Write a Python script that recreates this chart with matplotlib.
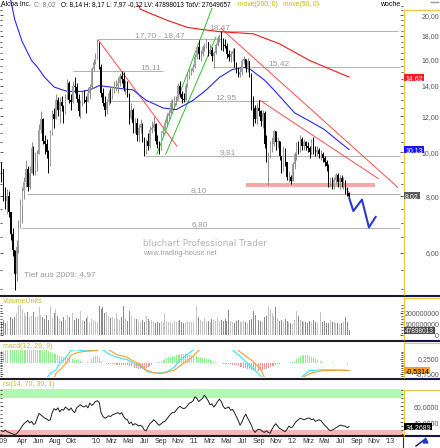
import numpy as np
import pandas as pd
import matplotlib
matplotlib.use('Agg')
import matplotlib.pyplot as plt
import matplotlib.dates as mdates
from matplotlib.lines import Line2D
from matplotlib.patches import Rectangle
from matplotlib.ticker import FixedLocator, NullFormatter

plt.rcParams['font.family'] = ['Liberation Sans', 'DejaVu Sans']

# weekly candles Alcoa Inc., week of 12 Jan 2009 .. week of 30 Jul 2012
week_start = '2009-01-12'
first_open = 9.4
closes = [9.2, 8.3, 7.8, 8.0, 7.4, 6.6, 6.1, 5.4, 6.2, 6.8, 7.6, 8.2, 8.6, 9.2, 8.4, 9.0, 10.2, 9.1, 9.5, 9.9,
          11.2, 11.8, 10.6, 10.4, 10.0, 9.4, 11.0, 12.1, 11.8, 13.0, 12.4, 12.9, 12.6, 12.1, 13.2, 14.2, 13.0, 12.9,
          14.0, 13.9, 13.1, 12.3, 12.8, 13.4, 13.0, 12.9, 13.5, 13.9, 15.2, 15.8, 16.1,
          17.3, 15.4, 13.5, 12.8, 12.4, 12.9, 13.5, 13.3, 13.8, 14.0, 14.0, 14.2, 14.7, 14.5, 13.8, 14.0, 13.4, 11.9,
          12.4, 11.6, 11.6, 10.9, 11.3, 11.5, 10.6, 10.0, 10.6, 10.3, 11.2, 11.3, 11.5, 10.6, 10.5, 10.2, 11.0, 11.1,
          11.6, 12.0, 12.2, 12.8, 12.8, 13.0, 13.0, 14.0, 13.4, 13.1, 13.0, 14.0, 14.7, 14.9, 15.1, 15.4,
          16.2, 17.0, 16.4, 16.4, 17.0, 17.1, 17.5, 16.6, 16.8, 16.3, 16.5, 17.2, 17.8, 17.9, 17.4, 17.2, 17.1, 16.4,
          16.2, 16.4, 16.7, 15.6, 15.1, 14.8, 15.0, 15.9, 16.0, 15.3, 15.9, 14.8, 12.8, 12.5, 11.8, 12.5, 12.3, 11.7,
          12.2, 10.4, 9.6, 9.8, 10.4, 10.4, 11.1, 10.5, 10.6, 9.8, 9.1, 10.0, 9.5, 8.8, 8.8, 8.65,
          9.4, 9.9, 10.3, 10.2, 10.7, 10.3, 10.5, 10.3, 10.2, 10.0, 10.5, 10.1, 10.0, 10.1, 9.9, 9.9, 9.7, 9.5, 9.3,
          8.6, 8.7, 8.4, 8.7, 8.9, 8.6, 8.75, 8.6, 8.6, 8.3, 8.14, 8.02]
highs = [9.5, 9.2, 8.4, 8.3, 8.2, 7.3, 6.8, 6.1, 6.4, 7.1, 7.9, 8.4, 8.8, 9.6, 9.3, 9.3, 10.5, 10.3, 10.0, 10.1,
         11.5, 12.3, 11.9, 10.9, 10.7, 10.1, 11.2, 12.4, 12.5, 13.4, 13.2, 13.2, 13.3, 12.7, 13.4, 14.5, 14.3, 13.4,
         14.3, 14.6, 14.2, 13.4, 13.0, 13.6, 13.7, 13.3, 13.9, 14.1, 15.4, 16.0, 16.5,
         17.7, 17.5, 15.6, 13.8, 13.3, 13.1, 13.7, 13.8, 14.0, 14.3, 14.4, 14.6, 14.9, 15.11, 15.0, 14.4, 14.3, 13.5,
         12.8, 12.5, 11.9, 11.9, 11.5, 11.8, 11.6, 10.8, 10.7, 11.0, 11.4, 11.7, 12.0, 11.6, 10.9, 10.6, 11.1, 11.4,
         11.8, 12.2, 12.4, 13.0, 13.1, 13.3, 13.3, 14.2, 14.3, 13.6, 13.5, 14.2, 14.9, 15.2, 15.3, 15.6,
         16.4, 17.3, 17.6, 16.8, 17.2, 17.4, 17.7, 17.4, 17.3, 17.0, 16.7, 17.4, 18.0, 18.2, 18.47, 17.8, 17.7, 17.4,
         16.8, 16.7, 16.9, 16.9, 15.8, 15.3, 15.4, 16.0, 16.3, 16.0, 16.1, 15.9, 14.9, 13.3, 12.7, 12.8, 13.0, 12.4,
         12.4, 12.3, 10.9, 10.0, 10.6, 10.8, 11.2, 11.1, 10.8, 10.6, 9.8, 10.3, 10.2, 9.5, 9.1, 8.9,
         9.5, 10.0, 10.5, 10.6, 10.9, 10.8, 10.7, 10.6, 10.5, 10.3, 10.7, 10.8, 10.3, 10.3, 10.2, 10.1, 10.0, 9.8, 9.6,
         9.4, 8.8, 8.8, 8.8, 9.0, 9.0, 8.9, 8.9, 8.8, 8.7, 8.4, 8.17]
lows = [8.6, 7.8, 7.5, 7.3, 7.2, 6.4, 5.9, 4.97, 5.2, 6.0, 6.8, 7.0, 7.9, 8.4, 8.2, 8.3, 9.0, 8.9, 8.9, 9.1,
        10.0, 11.0, 10.4, 9.9, 9.7, 9.0, 9.3, 10.9, 11.3, 11.9, 12.0, 11.6, 12.3, 11.6, 12.1, 13.1, 12.8, 12.4,
        12.8, 13.5, 12.9, 12.0, 11.9, 12.6, 12.8, 12.2, 12.9, 13.1, 13.8, 15.1, 15.6,
        16.0, 15.2, 13.2, 12.6, 12.0, 12.1, 12.7, 12.8, 13.1, 13.5, 13.6, 13.5, 14.0, 14.2, 13.6, 13.4, 13.2, 11.5,
        11.8, 11.0, 11.0, 10.6, 10.5, 11.0, 10.5, 9.81, 9.9, 10.1, 10.2, 11.0, 11.1, 10.4, 10.2, 9.9, 10.1, 10.8,
        11.0, 11.4, 11.8, 12.1, 12.4, 12.5, 12.7, 13.0, 13.2, 12.8, 12.9, 13.0, 13.9, 14.5, 14.8, 15.0,
        15.3, 16.0, 16.0, 15.9, 16.3, 16.7, 16.9, 16.3, 16.4, 15.9, 15.3, 16.4, 17.1, 17.5, 16.8, 16.7, 16.9, 16.1,
        15.9, 15.8, 15.9, 15.4, 14.9, 14.6, 14.6, 14.8, 15.6, 15.0, 15.0, 14.6, 12.4, 11.4, 11.6, 11.5, 12.0, 11.4,
        11.3, 10.2, 9.5, 8.45, 9.7, 10.0, 10.3, 10.1, 10.2, 9.6, 9.0, 9.2, 9.3, 8.7, 8.6, 8.5,
        8.7, 9.2, 9.6, 9.9, 10.0, 10.1, 10.1, 10.1, 10.0, 9.7, 9.9, 9.9, 9.8, 9.8, 9.7, 9.6, 9.5, 9.3, 9.1,
        8.4, 8.4, 8.3, 8.3, 8.5, 8.4, 8.3, 8.4, 8.3, 8.1, 8.0, 7.97]
volume_mio = [125, 140, 118, 130, 150, 165, 148, 172, 205, 280, 275, 230, 200, 175, 210, 165, 180,
              215, 165, 175, 260, 190, 170, 150, 185, 140, 265, 160, 200, 240, 175, 150, 135, 165, 145, 190,
              170, 155, 205, 140, 160, 150, 220, 145, 130, 160, 180, 125, 150, 140, 135, 120,
              270, 240, 255, 200, 210, 180, 160, 170, 150, 200, 150, 140, 165, 270, 160, 130, 220, 180, 170,
              160, 150, 135, 125, 140, 120, 180, 150, 130, 140, 120, 115, 125, 110, 130, 125, 200, 135, 120,
              125, 115, 130, 120, 135, 140, 125, 115, 110, 130, 125, 120, 135, 110,
              270, 165, 140, 130, 155, 125, 135, 120, 150, 140, 130, 165, 125, 140, 130, 150, 135, 230,
              130, 120, 115, 135, 140, 125, 120, 130, 125, 115, 140, 150, 220, 190, 160, 140, 130, 125, 170, 180,
              270, 245, 200, 180, 260, 160, 130, 140, 125, 150, 135, 120, 110, 100, 140, 220,
              175, 140, 135, 120, 125, 115, 130, 120, 140, 125, 110, 130, 210,
              120, 130, 110, 115, 140, 125, 120, 110, 115, 105, 110, 120, 165, 120, 47.898013]
macd_hist = [0.76, 0.79, 0.83, 0.84, 0.86, 0.89, 0.89, 0.91, 0.94, 0.94, 0.94,
             0.94, 0.94, 0.94, 0.94, 0.94, 0.94, 0.94, 0.94, 0.94, 0.94, 0.94,
             0.89, 0.86, 0.84, 0.79, 0.70, 0.66, 0.61, 0.57, 0.53, 0.48, 0.44, 0.41, 0.38, 0.34,
             0.30, 0.28, 0.25, 0.23, 0.19, 0.15, 0.13, 0.05, -0.03, -0.04, 0.03, 0.06,
             0.28, 0.38, 0.46, 0.43, 0.32, 0.10, 0.0,
             -0.04, -0.06, -0.08, -0.10, -0.10, -0.11, -0.13, -0.13, -0.14, -0.15, -0.15, -0.17, -0.18, -0.20,
             -0.25, -0.30, -0.34, -0.38, -0.41, -0.42, -0.41, -0.38, -0.33, -0.28, -0.20, -0.13, -0.05,
             0.0, 0.03, 0.05,
             0.13, 0.20, 0.25, 0.30, 0.36, 0.38, 0.43, 0.48, 0.52, 0.55, 0.57, 0.58, 0.58, 0.57, 0.56, 0.55,
             0.52, 0.50, 0.46, 0.43, 0.41, 0.38, 0.34, 0.30, 0.25, 0.22, 0.17, 0.11, 0.06,
             0.03, -0.03, -0.04,
             -0.05, -0.06, -0.06, -0.08, -0.09, -0.10, -0.13, -0.15, -0.19, -0.23, -0.27, -0.30, -0.34, -0.38,
             -0.42, -0.46, -0.50, -0.53, -0.56, -0.57, -0.56, -0.53, -0.50, -0.46, -0.41, -0.36, -0.30, -0.25,
             -0.20, -0.15, -0.10, -0.06, -0.04,
             -0.03, 0.01, 0.0, -0.01, 0.03, 0.06,
             0.13, 0.23, 0.33, 0.42, 0.48, 0.52, 0.52, 0.50, 0.44, 0.38, 0.32, 0.25, 0.19, 0.13, 0.08,
             0.03, -0.03, -0.04, -0.03, 0.01, 0.03, -0.01, -0.04, -0.05, -0.03, 0.01, -0.03, -0.05, -0.06, -0.04]
rsi_values = [29, 28, 30, 28, 27, 26, 25, 24.5, 25, 28, 31, 35, 38, 40, 42, 39, 41, 37, 38, 45,
              51, 49, 47, 45, 44, 42, 43, 52, 57, 55, 58, 53, 56, 55, 59, 57, 55, 58, 54, 52,
              58, 60, 62, 60, 59, 61, 58, 64, 61, 63, 66, 67, 65, 52, 47, 45, 46, 48, 47, 49,
              50, 51, 52, 50, 52, 47, 44, 43, 38, 40, 36, 38, 37, 35, 36, 34, 30, 29, 34, 38,
              40, 43, 41, 38, 36, 38, 40, 41, 44, 47, 50, 52, 52, 55, 58, 60, 58, 57, 58, 61,
              64, 65, 67, 72, 70, 66, 68, 70, 74, 71, 67, 62, 63, 59, 62, 66, 69, 66, 60, 57,
              58, 59, 55, 56, 52, 47, 42, 36, 40, 46, 50, 45, 41, 36, 30, 27, 30, 31, 30, 28,
              27, 29, 27, 26, 31, 35, 38, 35, 32, 31, 29, 28, 31, 35, 33, 34, 38, 41, 43, 45,
              44, 43, 44, 45, 45, 43, 44, 41, 42, 43, 42, 39, 36, 34, 31, 29, 30, 31, 33, 34,
              36, 36, 35, 35, 33, 34.2689]

# moving averages and MACD lines, read at single weeks (index into the weekly series)
ma50_weeks = [4, 5, 7, 11, 16, 19, 23, 28, 35, 43, 47, 52, 58, 63, 70, 77, 86, 93, 102, 109, 116, 123, 129,
              132, 140, 145, 156, 164, 172, 179, 185]
ma50_values = [22.3, 21.5, 19.6, 17.5, 15.9, 15.4, 14.6, 13.9, 13.6, 13.6, 13.7, 14.0, 13.9, 13.8, 13.7, 13.0,
               12.5, 12.4, 13.0, 13.7, 14.6, 15.2, 15.35, 15.25, 14.4, 13.7, 12.2, 11.7, 11.2, 10.6, 10.13]
ma200_weeks = [73, 74, 88, 99, 107, 116, 134, 148, 164, 185]
ma200_values = [21.0, 20.6, 19.5, 18.8, 18.6, 18.4, 18.2, 17.3, 15.9, 14.62]
macd_weeks = [20, 24, 26, 29, 31, 34, 37, 39, 44, 49, 52, 54, 58, 62, 67, 70, 74, 78, 83, 88, 92, 95, 99, 102,
              106, 120, 123, 127, 130, 134, 137, 139, 143, 157, 160, 164, 170, 177, 185]
macd_values = [-1.71, -1.06, -0.72, -0.49, -0.03, 0.31, 0.83, 0.89, 0.80, 0.83, 1.34, 0.87, 0.52, 0.36, 0.19,
               0.0, -0.26, -0.63, -0.72, -0.63, -0.31, 0.19, 0.58, 0.85, 1.46, 1.46, 0.87, 0.42, 0.07, -0.44,
               -0.76, -1.08, -1.97, -1.97, -0.95, -0.54, -0.49, -0.49, -0.52]
signal_weeks = [26, 28, 29, 32, 35, 37, 41, 45, 51, 52, 56, 59, 62, 66, 69, 73, 77, 81, 86, 92, 96, 101, 105,
                107, 124, 126, 130, 134, 138, 140, 143, 158, 161, 165, 171, 178, 185]
signal_values = [-1.58, -1.08, -0.72, -0.38, 0.07, 0.52, 0.70, 0.78, 0.83, 1.08, 0.96, 0.73, 0.52, 0.42, 0.19,
                 -0.06, -0.49, -0.70, -0.72, -0.50, -0.12, 0.32, 0.83, 1.46, 1.46, 0.83, 0.45, 0.07, -0.44, -1.01,
                 -1.97, -1.97, -0.95, -0.70, -0.54, -0.52, -0.5314]

# drawn analysis: horizontal levels, trend lines, support zone, projection
levels = [17.70, 18.47, 15.11, 15.42, 12.95, 9.81, 8.10, 6.80]
level_from = ['2010-01-08', '2011-04-08', '2009-10-07', '2011-03-13', '2010-02-22', '2010-07-02',
              '2009-04-19', '2009-03-31']
level_to = ['2011-04-15', '2013-01-30', '2010-09-08', '2013-02-07', '2011-10-03', '2013-02-07',
            '2013-02-07', '2013-02-07']
level_labels = ['17,70 - 18,47', '18,47', '15,11', '15,42', '12,95', '9,81', '8,10', '6,80']
red_trends = [('2010-01-11', 17.6, '2010-10-30', 10.3),
              ('2011-04-12', 18.7, '2013-01-30', 8.36),
              ('2011-09-04', 13.0, '2012-11-17', 8.75)]
green_trends = [('2010-08-16', 9.9, '2011-03-09', 20.7),
                ('2010-09-18', 9.9, '2011-03-24', 17.9)]
support = ('2011-07-14', '2012-11-06', 8.47)
proj_dates = ['2012-08-02', '2012-08-17', '2012-09-18', '2012-10-14', '2012-11-08']
proj_values = [7.91, 7.42, 7.86, 6.83, 7.2]
low_2009 = 4.97

month_ticks = ['2009-01-21', '2009-04-01', '2009-06-01', '2009-08-01', '2009-10-01', '2010-01-01', '2010-03-01',
               '2010-05-01', '2010-07-01', '2010-09-01', '2010-11-01', '2011-01-01', '2011-03-01', '2011-05-01',
               '2011-07-01', '2011-09-01', '2011-11-01', '2012-01-01', '2012-03-01', '2012-05-01', '2012-07-01',
               '2012-09-01', '2012-11-01', '2013-01-01']
month_labels = ["'09", 'Apr', 'Jun', 'Aug', 'Okt', "'10", 'Mrz', 'Mai', 'Jul', 'Sep', 'Nov', "'11", 'Mrz', 'Mai',
                'Jul', 'Sep', 'Nov', "'12", 'Mrz', 'Mai', 'Jul', 'Sep', 'Nov', "'13"]

W, H = 440, 448
PLOT_R = 403


def d(s):
    return mdates.date2num(pd.Timestamp(s))


def px_rect(top, bottom):
    return [0, 1 - bottom / H, PLOT_R / W, (bottom - top) / H]


def fig_line(x0, y0, x1, y1, color, lw):
    fig.add_artist(Line2D([x0 / W, x1 / W], [1 - y0 / H, 1 - y1 / H], transform=fig.transFigure,
                          color=color, lw=lw, solid_capstyle='butt'))


def fig_text(x, y, s, **kw):
    fig.text(x / W, 1 - y / H, s, **kw)


def style_axis(axis, ticks, labels, minor):
    for s in axis.spines.values():
        s.set_visible(False)
    axis.set_yticks(ticks, labels)
    axis.yaxis.set_minor_locator(FixedLocator(minor))
    axis.yaxis.set_minor_formatter(NullFormatter())
    axis.tick_params(axis='y', which='both', left=True, right=True, labelleft=False, labelright=True,
                     direction='in', color='#3a3a3a', width=0.6)
    axis.tick_params(axis='y', which='major', length=2.2, pad=26, labelsize=5, labelcolor='#555555')
    axis.tick_params(axis='y', which='minor', length=1.3)
    axis.tick_params(axis='x', which='both', bottom=False, top=False, labelbottom=False)
    for t in axis.get_yticklabels():
        t.set_horizontalalignment('right')


def value_box(axis, value, text, face, color='white', size=5):
    # small coloured label on the right scale, placed at the pixel row of the value
    y_disp = axis.transData.transform((axis.get_xlim()[0], value))[1]
    t = fig.text(405.2 / W, y_disp / H, text, ha='left', va='center_baseline', fontsize=size,
                 color=color, zorder=10)
    w = t.get_window_extent(renderer).width
    fig.add_artist(Rectangle(((PLOT_R + 0.8) / W, (y_disp - 3.5) / H), (w + 2.6) / W, 7.0 / H,
                             transform=fig.transFigure, fc=face, ec='none', zorder=9))


closes = np.array(closes)
highs = np.array(highs)
lows = np.array(lows)
opens = np.r_[first_open, closes[:-1]]
up = closes >= opens
weeks = pd.date_range(week_start, periods=len(closes), freq='7D') + pd.Timedelta(days=2)
x = mdates.date2num(weeks.to_pydatetime())

fig = plt.figure(figsize=(W / 100, H / 100), dpi=100)
renderer = fig.canvas.get_renderer()
ax = fig.add_axes(px_rect(0, 295))
axv = fig.add_axes(px_rect(305, 340), sharex=ax)
axm = fig.add_axes(px_rect(350, 377), sharex=ax)
axr = fig.add_axes(px_rect(389, 435), sharex=ax)

# ---- price panel ----
ax.set_yscale('log')
ax.set_ylim(4.85, 21.6)
ax.set_xlim(d('2009-01-08 11:00'), d('2013-02-18'))

for lv, a, b in zip(levels, level_from, level_to):
    ax.hlines(lv, d(a), d(b), color='#b4b4b4', lw=0.75, zorder=1)
label_at = ['2010-08-27', '2011-04-08', '2010-07-25', '2011-11-13', '2011-04-30', '2011-05-08',
            '2011-01-20', '2011-01-24']
for lv, lab, at in zip(levels, level_labels, label_at):
    ax.annotate(lab, (d(at), lv), xytext=(0, 1.4), textcoords='offset points', ha='center',
                va='baseline', fontsize=6, color='#9a9a9a', zorder=2)

ax.hlines(support[2], d(support[0]), d(support[1]), color='#f6a6a6', lw=2.8, zorder=1)

for a, p0, b, p1 in red_trends:
    ax.plot([d(a), d(b)], [p0, p1], color='#ff4a4a', lw=0.7, zorder=3)
for a, p0, b, p1 in green_trends:
    ax.plot([d(a), d(b)], [p0, p1], color='#2ec02e', lw=0.7, zorder=3)

ax.plot(x[ma200_weeks], ma200_values, color='#f01818', lw=0.8, zorder=3)
ax.plot(x[ma50_weeks], ma50_values, color='#2828f0', lw=0.8, zorder=3)

body_lo = np.minimum(opens, closes)
body_hi = np.maximum(opens, closes)
wick_lo = np.minimum(lows, body_lo)
wick_hi = np.maximum(highs, body_hi)
ax.vlines(x[up], wick_lo[up], wick_hi[up], color='#8c8c8c', lw=0.7, zorder=4)
ax.vlines(x[~up], wick_lo[~up], wick_hi[~up], color='black', lw=0.7, zorder=4)
ax.bar(x[up], (body_hi - body_lo)[up], bottom=body_lo[up], width=4.8, color='#a4a4a4', lw=0, zorder=5)
ax.bar(x[~up], (body_hi - body_lo)[~up], bottom=body_lo[~up], width=4.8, color='black', lw=0, zorder=5)

ax.plot([x[-1] - 7, x[-1] + 1], [closes[-1] * 1.035, closes[-1] * 0.99], color='black', lw=0.9,
        ls=(0, (1, 1)), zorder=5)
ax.plot([d(s) for s in proj_dates], proj_values, color='#2a3acc', lw=1.5, zorder=6)

ax.text(d('2009-04-07'), low_2009 * 1.085, 'Tief aus 2009: 4,97', fontsize=6, color='#9a9a9a',
        ha='left', va='center')

style_axis(ax, [6, 8, 10, 12, 14, 16, 18, 20], ['6,00', '8,00', '10,00', '12,00', '14,00', '16,00', '18,00', '20,00'],
           np.arange(5, 21.01, 0.5))

# ---- volume panel ----
vol = np.array(volume_mio) * 1e6
axv.bar(x, vol, width=3.6, color=np.where(up, '#c6c6c6', '#8a8a8a'), lw=0)
axv.set_ylim(-40.9e6, 277e6)
style_axis(axv, [0, 1e8, 2e8], ['0', '100000000', '200000000'], np.arange(0, 2.76e8, 2.5e7))

# ---- macd panel ----
hist = np.array(macd_hist)
axm.bar(x, hist, width=3.6, color=np.where(hist >= 0, '#8cf08c', '#f49494'), lw=0)
axm.plot(x[macd_weeks], macd_values, color='#2ee6f2', lw=0.8)
axm.plot(x[signal_weeks], signal_values, color='#f5a028', lw=0.8)
axm.set_ylim(-0.974, 0.862)
style_axis(axm, [0.25, -0.75], ['0,2500', '-0,7500'], np.arange(-0.875, 0.87, 0.125))

# ---- rsi panel ----
axr.axhspan(70, 100, color='#b4f7b4', lw=0)
axr.axhspan(0, 30, color='#f8b6b6', lw=0)
axr.plot(x, rsi_values, color='#1e1e1e', lw=0.7)
axr.set_ylim(23.7, 81.8)
style_axis(axr, [40, 60], ['40,0000', '60,0000'], np.arange(25, 81, 5))
axr.set_xticks([d(s) for s in month_ticks], month_labels)
axr.tick_params(axis='x', which='major', bottom=True, length=0, labelbottom=True, pad=1.8,
                labelsize=5, labelcolor='#333333')

# value boxes on the right scales
value_box(ax, ma200_values[-1], '14,62', '#ff1a1a')
value_box(ax, ma50_values[-1], '10,13', '#1818ff')
value_box(ax, closes[-1], '8,02', '#5c5c5c')
value_box(axv, vol[-1], '47898013', '#4a4a4a', size=4.7)
value_box(axm, signal_values[-1], '-0,5314', '#f5a020', color='black')
value_box(axr, rsi_values[-1], '34,2689', 'black')

# ---- frame lines, right column and headers ----
for yy in (295.5, 340.5, 378.5, 436):
    fig_line(0, yy, PLOT_R, yy, '#1e1e24', 1.5)
    fig_line(PLOT_R, yy, W, yy, '#141450', 1.5)
for top, bottom in ((10, 295), (297, 340), (342, 378), (389, 436)):
    fig_line(PLOT_R + 0.5, top, PLOT_R + 0.5, bottom, '#f0c23c', 0.8)
    fig_line(PLOT_R + 0.5, top + 0.5, W, top + 0.5, '#f0c23c', 0.8)
fig_line(PLOT_R, 437, PLOT_R, 448, '#303030', 0.8)
fig_line(430, 2, 439, 2, '#9a9a9a', 1.0)
fig.add_artist(Line2D([416 / W, 424 / W], [1 - 446 / H, 1 - 440 / H], transform=fig.transFigure,
                      color='#101070', lw=1.0))
fig.add_artist(Line2D([424.5 / W], [1 - 440 / H], transform=fig.transFigure, marker='^', ms=3.5,
                      color='#1a3ad0', lw=0))

fig_text(1, 5, 'Alcoa Inc.', fontsize=4.9, color='black', va='center')
fig_text(34.3, 5, 'C: 8,02', fontsize=4.9, color='#7a7a7a', va='center')
fig_text(61, 5, 'O: 8,14 H: 8,17 L: 7,97 -0,12 LV: 47898013 TotV: 27649657', fontsize=4.7,
         color='black', va='center')
fig_text(238, 5, 'move(200, 0)', fontsize=4.9, color='#c8b400', va='center')
fig_text(283, 5, 'move(50, 0)', fontsize=4.9, color='#c8b400', va='center')
fig_text(380, 5, 'woche', fontsize=5, color='black', va='center')

fig_text(3, 301.7, 'VolumeUnits', fontsize=5, color='#c8b828', va='center')
fig_text(3, 346, 'macd(12, 26, 9)', fontsize=5, color='#c8b828', va='center')
fig_text(3, 384.5, 'rsi(14, 70, 30, 1)', fontsize=5, color='#c8b828', va='center')

fig_text(143, 243, 'bluchart Professional Trader', fontsize=6.4, color='#b4b4b4', va='center',
         family=['DejaVu Sans'])
fig_text(143, 253, 'www.trading-house.net', fontsize=5.2, color='#a0a0a0', va='center')

fig.savefig('out.png', dpi=100)
